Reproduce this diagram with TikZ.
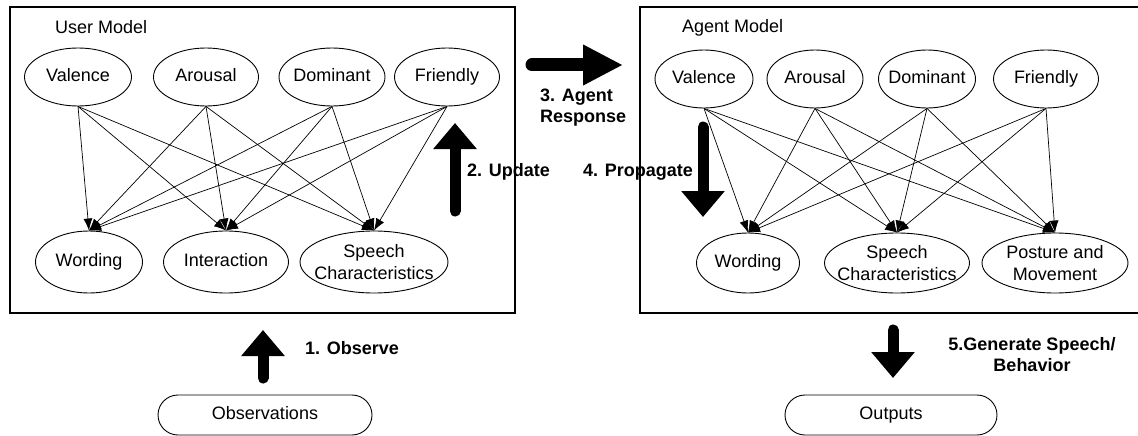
\documentclass[tikz,border=0pt]{standalone}
\usepackage{fontspec}
\setmainfont{Liberation Sans}
\usetikzlibrary{arrows.meta,shapes.geometric}

\begin{document}
\begin{tikzpicture}[x=1pt,y=-1pt,
  var/.style={draw,ellipse,line width=0.9pt,inner xsep=-12pt,inner ysep=-2pt,
    minimum height=58pt,align=center,font=\fontsize{18}{22}\selectfont},
  oneline/.style={text height=13pt,text depth=4pt},
  io/.style={draw,rounded corners=20pt,line width=0.9pt,minimum width=214pt,
    minimum height=40pt,text height=13pt,text depth=4pt,font=\fontsize{18}{22}\selectfont},
  link/.style={line width=0.7pt,-{Latex[length=12pt,width=9pt]}},
  bigarrow/.style={line width=11pt,line cap=round,-{Triangle[width=42pt,length=26pt]}},
  steplabel/.style={font=\bfseries\fontsize{18}{21}\selectfont,align=left,inner sep=0pt}]
  \useasboundingbox (0,0) rectangle (1138,436);

  % user model
  \draw[line width=1.4pt] (10,7) rectangle (515,313);
  \node[anchor=west,inner sep=0pt,font=\fontsize{18}{22}\selectfont] (ulabel) at (55,27) {User Model};
  \node[var,oneline,minimum width=107pt] (uval) at (78,77)  {Valence};
  \node[var,oneline,minimum width=105pt] (uaro) at (206,77) {Arousal};
  \node[var,oneline,minimum width=106pt] (udom) at (332,77) {Dominant};
  \node[var,oneline,minimum width=105pt] (ufri) at (447,77) {Friendly};
  \node[var,oneline,minimum width=107pt,minimum height=62pt] (uwor) at (89,262)  {Wording};
  \node[var,oneline,minimum width=125pt,minimum height=62pt] (uint) at (226,262) {Interaction};
  \node[var,minimum width=148pt,minimum height=62pt] (uspe) at (374,262) {Speech\\Characteristics};
  \foreach \a in {uval,uaro,udom,ufri}
    \foreach \b in {uwor,uint,uspe}
      \draw[link] (\a.south) -- (\b.north);

  % agent model
  \draw[line width=1.4pt] (640,7) rectangle (1145,313);
  \node[anchor=west,inner sep=0pt,font=\fontsize{18}{22}\selectfont] (alabel) at (682,28) {Agent Model};
  \node[var,oneline,minimum width=98pt]  (aval) at (704,79)  {Valence};
  \node[var,oneline,minimum width=96pt]  (aaro) at (815,79)  {Arousal};
  \node[var,oneline,minimum width=97pt]  (adom) at (927,79)  {Dominant};
  \node[var,oneline,minimum width=105pt] (afri) at (1046,79) {Friendly};
  \node[var,oneline,minimum width=103pt,minimum height=60pt] (awor) at (748,263)  {Wording};
  \node[var,minimum width=145pt,minimum height=60pt] (aspe) at (897,263)  {Speech\\Characteristics};
  \node[var,minimum width=146pt,minimum height=60pt] (apos) at (1055,263) {Posture and\\Movement};
  \foreach \a in {aval,aaro,adom,afri}
    \foreach \b in {awor,aspe,apos}
      \draw[link] (\a.south) -- (\b.north);

  % inputs and outputs
  \node[io] (obs) at (265,415) {Observations};
  \node[io,minimum width=212pt] (out) at (891,415) {Outputs};

  % steps
  \coordinate (obsfrom) at (263,378);  \coordinate (obsto) at (263,330);
  \coordinate (updfrom) at (455,211);  \coordinate (updto) at (455,123);
  \coordinate (respfrom) at (532,65);  \coordinate (respto) at (623,65);
  \coordinate (propfrom) at (703,127); \coordinate (propto) at (703,217);
  \coordinate (genfrom) at (893,330);  \coordinate (gento) at (893,378);
  \draw[bigarrow] (obsfrom) -- (obsto);
  \draw[bigarrow] (updfrom) -- (updto);
  \draw[bigarrow,line width=13pt,-{Triangle[width=38pt,length=40pt]}] (respfrom) -- (respto);
  \draw[bigarrow] (propfrom) -- (propto);
  \draw[bigarrow] (genfrom) -- (gento);

  \node[steplabel,anchor=west] (s1) at (305,348) {1. Observe};
  \node[steplabel,anchor=west] (s2) at (467,172) {2. Update};
  \node[steplabel,anchor=west] (s3) at (540,108) {3. Agent\\Response};
  \node[steplabel,anchor=west] (s4) at (583,172) {4. Propagate};
  \node[steplabel,align=center] (s5) at (1032,355) {5.Generate Speech/\\Behavior};
\end{tikzpicture}
\end{document}
